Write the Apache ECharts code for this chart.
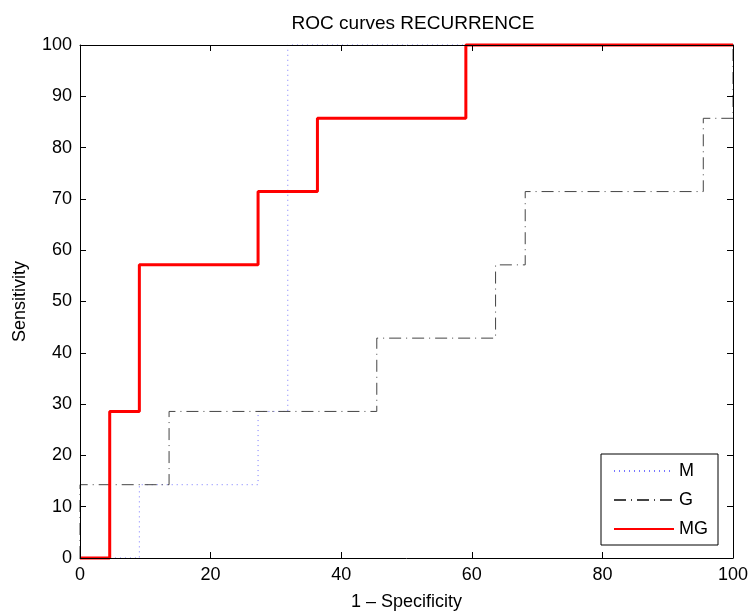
<!DOCTYPE html>
<html>
<head>
<meta charset="utf-8">
<script src="https://cdn.jsdelivr.net/npm/echarts@6/dist/echarts.min.js"></script>
<style>
  html, body { margin: 0; padding: 0; background: #fff; }
  #chart { width: 750px; height: 613px; }
</style>
</head>
<body>
<div id="chart"></div>
<script>
// ROC step curves: [1 - specificity, sensitivity] in percent
const seriesNames = ['M', 'G', 'MG'];
const curveM = [[0, 0], [9.09, 0], [9.09, 14.29], [27.27, 14.29], [27.27, 28.57], [31.82, 28.57], [31.82, 100], [100, 100]];
const curveG = [[0, 0], [0, 14.29], [13.64, 14.29], [13.64, 28.57], [45.45, 28.57], [45.45, 42.86], [63.64, 42.86], [63.64, 57.14], [68.18, 57.14], [68.18, 71.43], [95.45, 71.43], [95.45, 85.71], [100, 85.71], [100, 100]];
const curveMG = [[0, 0], [4.55, 0], [4.55, 28.57], [9.09, 28.57], [9.09, 57.14], [27.27, 57.14], [27.27, 71.43], [36.36, 71.43], [36.36, 85.71], [59.09, 85.71], [59.09, 100], [100, 100]];
const xTicks = [0, 20, 40, 60, 80, 100];
const yTicks = [0, 10, 20, 30, 40, 50, 60, 70, 80, 90, 100];

const FONT = 'Liberation Sans, Arial, sans-serif';

// box axes with inward ticks, drawn above the curves
const frameAxis = (extra) => Object.assign({
  type: 'value', min: 0, max: 100, z: 5,
  axisLine: { show: true, onZero: false, lineStyle: { color: '#000', width: 1 } },
  axisTick: { show: true, inside: true, length: 6, lineStyle: { color: '#000' } },
  splitLine: { show: false }
}, extra);

const chart = echarts.init(document.getElementById('chart'), null, { renderer: 'canvas' });
chart.setOption({
  animation: false,
  backgroundColor: '#fff',
  title: {
    text: 'ROC curves RECURRENCE',
    left: 408, top: 9, textAlign: 'center',
    textStyle: { fontFamily: FONT, fontSize: 19, fontWeight: 'normal', color: '#000' }
  },
  grid: { left: 80, right: 17, top: 45, bottom: 55, containLabel: false, outerBoundsMode: 'none' },
  xAxis: [
    frameAxis({
      position: 'bottom', interval: 20,
      name: '1 – Specificity', nameLocation: 'middle', nameGap: 35,
      nameTextStyle: { fontFamily: FONT, fontSize: 18, color: '#000' },
      axisLabel: { fontFamily: FONT, fontSize: 18, color: '#000', margin: 8,
        formatter: v => xTicks.includes(v) ? String(v) : '' }
    }),
    frameAxis({ position: 'top', interval: 20, axisLabel: { show: false } })
  ],
  yAxis: [
    frameAxis({
      position: 'left', interval: 10,
      name: 'Sensitivity', nameLocation: 'middle', nameGap: 51,
      nameTextStyle: { fontFamily: FONT, fontSize: 18, color: '#000' },
      axisLabel: { fontFamily: FONT, fontSize: 18, color: '#000', margin: 8,
        formatter: v => yTicks.includes(v) ? String(v) : '' }
    }),
    frameAxis({ position: 'right', interval: 10, axisLabel: { show: false } })
  ],
  legend: {
    orient: 'vertical',
    right: 32, bottom: 68,
    data: seriesNames,
    itemWidth: 60, itemHeight: 14, itemGap: 11,
    padding: [8, 10, 7, 12],
    borderColor: '#000', borderWidth: 1, borderRadius: 0,
    backgroundColor: '#fff',
    itemStyle: { opacity: 0 },
    textStyle: { fontFamily: FONT, fontSize: 18, color: '#000' }
  },
  series: [
    {
      name: seriesNames[0], type: 'line', data: curveM, symbol: 'none', clip: false,
      color: '#7777ff',
      lineStyle: { color: '#7777ff', width: 1, type: [1, 4] }
    },
    {
      name: seriesNames[1], type: 'line', data: curveG, symbol: 'none', clip: false,
      color: '#444',
      lineStyle: { color: '#444', width: 1, type: [12, 5, 1, 5] }
    },
    {
      name: seriesNames[2], type: 'line', data: curveMG, symbol: 'none', clip: false,
      color: '#ff0000',
      lineStyle: { color: '#ff0000', width: 3 }
    }
  ]
});
</script>
</body>
</html>
